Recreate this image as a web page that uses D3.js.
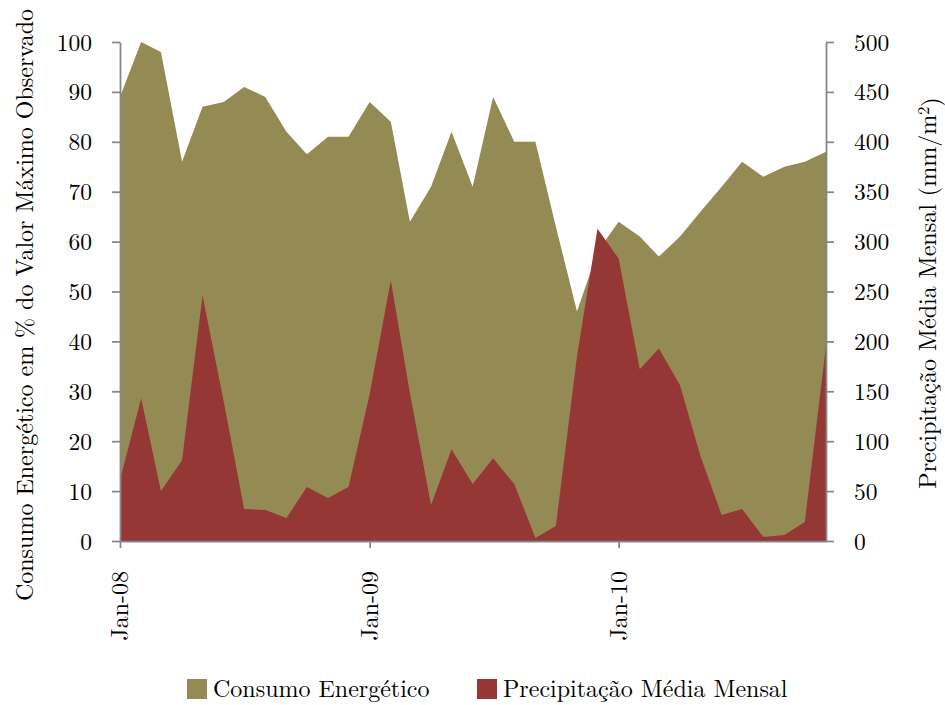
<!DOCTYPE html>
<html>
<head>
<meta charset="utf-8">
<script src="https://cdn.jsdelivr.net/npm/d3@7"></script>
<style>
  html, body { margin: 0; padding: 0; background: #fff; }
</style>
</head>
<body>
<svg id="chart" width="945" height="705"></svg>
<script>
// ---- data ----
const months = [
  "2008-01","2008-02","2008-03","2008-04","2008-05","2008-06","2008-07","2008-08","2008-09","2008-10","2008-11","2008-12",
  "2009-01","2009-02","2009-03","2009-04","2009-05","2009-06","2009-07","2009-08","2009-09","2009-10","2009-11","2009-12",
  "2010-01","2010-02","2010-03","2010-04","2010-05","2010-06","2010-07","2010-08","2010-09","2010-10","2010-11"
];
const consumo = [
  89, 100, 98, 76, 87, 88, 91, 89, 82, 77.5, 81, 81,
  88, 84, 64, 71, 82, 71, 89, 80, 80, 63, 46, 58,
  64, 61, 57, 61, 66, 71, 76, 73, 75, 76, 78
];
const precipitacao = [
  61, 143, 50, 81, 246, 140, 32, 31, 23, 54, 43, 54,
  147, 261, 148, 36, 92, 57, 83, 57, 3, 15, 185, 313,
  283, 172, 193, 156, 85, 26, 32, 4, 6, 19, 196
];
const leftTicks = [0, 10, 20, 30, 40, 50, 60, 70, 80, 90, 100];
const rightTicks = [0, 50, 100, 150, 200, 250, 300, 350, 400, 450, 500];
const seriesNames = ["Consumo Energético", "Precipitação Média Mensal"];
const leftTitle = "Consumo Energético em % do Valor Máximo Observado";
const rightTitleMain = "Precipitação Média Mensal (mm/m";
const rightTitleSup = "2";
const rightTitleEnd = ")";

// ---- layout ----
const FONT = '"Latin Modern Roman", "Liberation Serif", serif';
const colOlive = "#948A54", colRed = "#953735", axisCol = "#868686";
const L = 120, R = 826, T = 42, B = 541;
const parse = d3.timeParse("%Y-%m");
const dates = months.map(parse);

const svg = d3.select("#chart");
const x = d3.scaleTime().domain([dates[0], dates[dates.length - 1]]).range([L, R]);
const yL = d3.scaleLinear().domain([0, 100]).range([B, T]);
const yR = d3.scaleLinear().domain([0, 500]).range([B, T]);

const areaC = d3.area().x((d, i) => x(dates[i])).y0(yL(0)).y1(d => yL(d));
const areaP = d3.area().x((d, i) => x(dates[i])).y0(yR(0)).y1(d => yR(d));

svg.append("path").datum(consumo).attr("d", areaC).attr("fill", colOlive);
svg.append("path").datum(precipitacao).attr("d", areaP).attr("fill", colRed);

function styleAxis(g) {
  g.selectAll(".domain").attr("stroke", axisCol).attr("stroke-width", 1.75);
  g.selectAll(".tick line").attr("stroke", axisCol).attr("stroke-width", 1.75);
  g.selectAll("text").style("font-family", FONT).attr("fill", "#000");
}

// left axis
const gL = svg.append("g").attr("transform", `translate(${L},0)`)
  .call(d3.axisLeft(yL).tickValues(leftTicks).tickSize(8).tickSizeOuter(0).tickPadding(20));
styleAxis(gL);
gL.selectAll("text").style("font-size", "23.5px").attr("dy", "0.34em");

// right axis
const gR = svg.append("g").attr("transform", `translate(${R},0)`)
  .call(d3.axisRight(yR).tickValues(rightTicks).tickSize(8).tickSizeOuter(0).tickPadding(20));
styleAxis(gR);
gR.selectAll("text").style("font-size", "23.5px").attr("dy", "0.34em");

// bottom axis
const gB = svg.append("g").attr("transform", `translate(0,${B})`)
  .call(d3.axisBottom(x).ticks(d3.timeYear.every(1)).tickFormat(d3.timeFormat("%b-%y")).tickSize(7).tickSizeOuter(0));
styleAxis(gB);
gB.selectAll("text")
  .style("font-size", "24px")
  .attr("text-anchor", "end")
  .attr("transform", "rotate(-90)")
  .attr("x", -30).attr("y", 0).attr("dy", "0.33em");

// axis titles
svg.append("text")
  .attr("transform", `translate(33,305) rotate(-90)`)
  .attr("text-anchor", "middle")
  .style("font-family", FONT).style("font-size", "24px")
  .text(leftTitle);

const rt = svg.append("text")
  .attr("transform", `translate(936,293) rotate(-90)`)
  .attr("text-anchor", "middle")
  .style("font-family", FONT).style("font-size", "24px");
rt.append("tspan").text(rightTitleMain);
rt.append("tspan").attr("dy", "-0.45em").style("font-size", "16.5px").text(rightTitleSup);
rt.append("tspan").attr("dy", "0.45em").text(rightTitleEnd);

// legend
const legend = svg.append("g");
const legX = [187, 477];
const legCols = [colOlive, colRed];
seriesNames.forEach((name, i) => {
  legend.append("rect").attr("x", legX[i]).attr("y", 679).attr("width", 20).attr("height", 20).attr("fill", legCols[i]);
  legend.append("text").attr("x", legX[i] + 26).attr("y", 697)
    .style("font-family", FONT).style("font-size", "24px").text(name);
});
</script>
</body>
</html>
